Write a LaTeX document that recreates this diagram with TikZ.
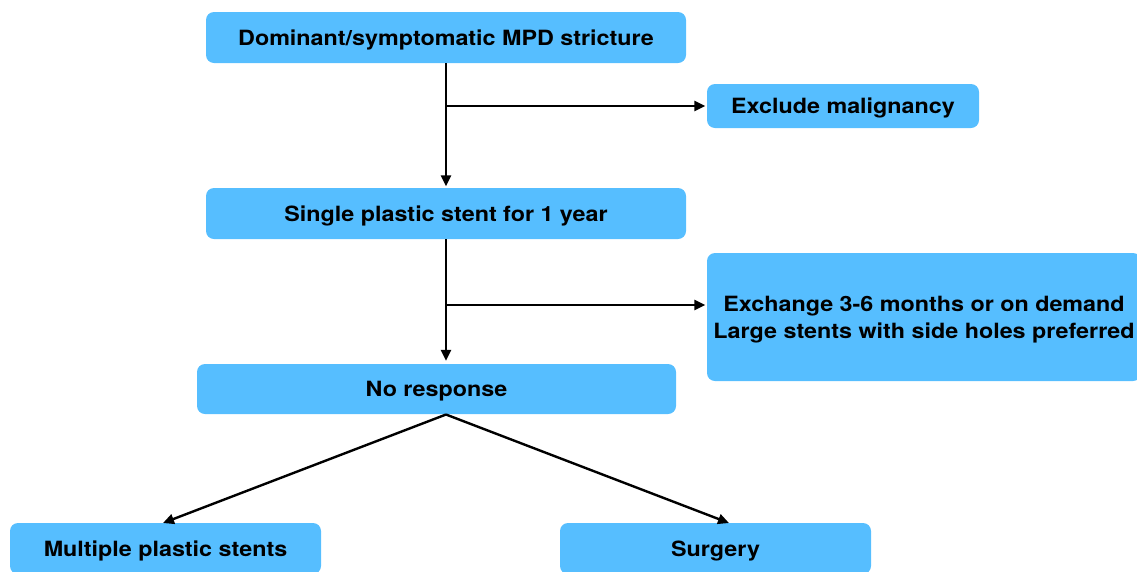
\documentclass[tikz,border=0pt]{standalone}
\usepackage{fontspec}
\setmainfont{TeX Gyre Heros}[FakeStretch=1.11]
\usetikzlibrary{arrows.meta}
\definecolor{boxblue}{RGB}{86,190,255}
\begin{document}
\begin{tikzpicture}[x=1pt,y=-1pt,
  fbox/.style={fill=boxblue, draw=none, rounded corners=8pt, inner sep=0pt,
    align=center, text depth=0pt, font=\fontsize{21}{27}\selectfont\bfseries},
  conn/.style={line width=2.4pt, -{Triangle[length=11pt,width=10pt]}}]
\useasboundingbox (0,0) rectangle (1137,571);
\node[fbox, minimum width=480pt, minimum height=51pt] (dom) at (446,37.5) {Dominant/symptomatic MPD stricture};
\node[fbox, minimum width=272pt, minimum height=44pt] (excl) at (843,106) {Exclude malignancy};
\node[fbox, minimum width=480pt, minimum height=51pt] (single) at (446,213.5) {Single plastic stent for 1 year};
\node[fbox, minimum width=434pt, minimum height=128pt] (exch) at (924,317) {Exchange 3-6 months or on demand\\Large stents with side holes preferred};
\node[fbox, minimum width=479pt, minimum height=50pt] (nores) at (436.5,389) {No response};
\node[fbox, minimum width=311pt, minimum height=51pt] (multi) at (165.5,548.5) {Multiple plastic stents};
\node[fbox, minimum width=311pt, minimum height=51pt] (surg) at (715.5,548.5) {Surgery};
\coordinate (b1) at (446,106);
\coordinate (b2) at (446,305);
\coordinate (apex) at (446,414.5);
\coordinate (lt) at (163,523);
\coordinate (rt) at (729,523);
\draw[conn, shorten >=1.5pt] (dom.south) -- (single.north);
\draw[conn, shorten >=1.5pt] (b1) -- (b1 -| excl.west);
\draw[conn, shorten >=3pt] (single.south) -- (single.south |- nores.north);
\draw[conn, shorten >=1.5pt] (b2) -- (b2 -| exch.west);
\draw[conn] (apex) -- (lt);
\draw[conn] (apex) -- (rt);
\end{tikzpicture}
\end{document}
